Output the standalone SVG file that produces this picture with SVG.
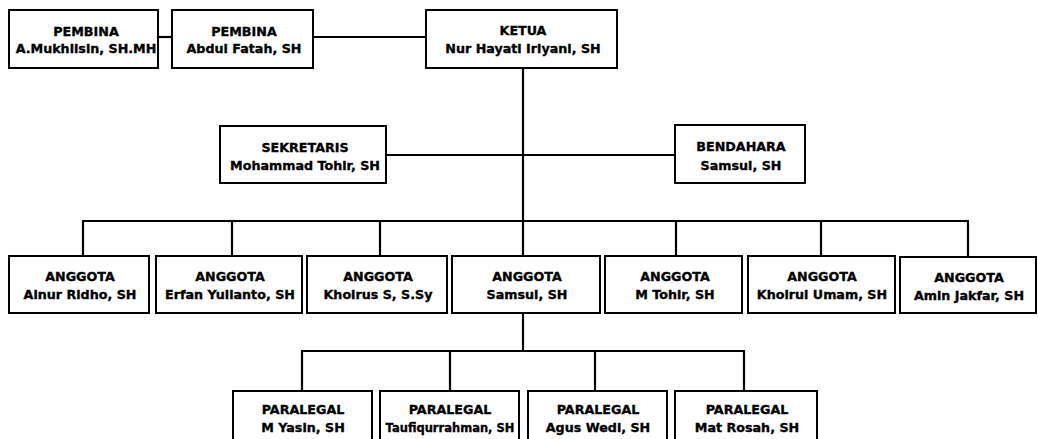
<svg xmlns="http://www.w3.org/2000/svg" width="1038" height="439" viewBox="0 0 1038 439">
<style>
rect.box{fill:#fff;stroke:#000;stroke-width:2}
.c line{stroke:#000;stroke-width:2.2;fill:none}
text{font-family:"DejaVu Sans",Verdana,sans-serif;font-weight:bold;font-size:12.7px;fill:#000;stroke:#000;stroke-width:0.35;text-anchor:middle}
</style>
<rect width="1038" height="439" fill="#fff"/>
<g class="c" id="connectors">
<line x1="158" y1="37" x2="172" y2="37"/>
<line x1="313" y1="37" x2="426" y2="37"/>
<line x1="523" y1="68" x2="523" y2="256"/>
<line x1="386" y1="155" x2="675" y2="155"/>
<line x1="82" y1="221" x2="969" y2="221"/>
<line x1="83" y1="221" x2="83" y2="256"/>
<line x1="232" y1="221" x2="232" y2="256"/>
<line x1="380" y1="221" x2="380" y2="256"/>
<line x1="676" y1="221" x2="676" y2="256"/>
<line x1="821" y1="221" x2="821" y2="256"/>
<line x1="968" y1="221" x2="968" y2="256"/>
<line x1="523" y1="313" x2="523" y2="351"/>
<line x1="301" y1="351" x2="745" y2="351"/>
<line x1="302" y1="351" x2="302" y2="391"/>
<line x1="450" y1="351" x2="450" y2="391"/>
<line x1="595" y1="351" x2="595" y2="391"/>
<line x1="744" y1="351" x2="744" y2="391"/>
</g>
<g id="pembina1"><rect class="box" x="9" y="10" width="149" height="58"/><text x="86" y="36">PEMBINA</text><text x="86" y="53">A.Mukhlisin, SH.MH</text></g>
<g id="pembina2"><rect class="box" x="172" y="10" width="141" height="58"/><text x="244" y="36">PEMBINA</text><text x="244" y="53">Abdul Fatah, SH</text></g>
<g id="ketua"><rect class="box" x="426" y="10" width="191" height="58"/><text x="523" y="35">KETUA</text><text x="523" y="53">Nur Hayati Iriyani, SH</text></g>
<g id="sekretaris"><rect class="box" x="220" y="126" width="166" height="57"/><text x="305" y="152">SEKRETARIS</text><text x="305" y="170">Mohammad Tohir, SH</text></g>
<g id="bendahara"><rect class="box" x="675" y="125" width="130" height="58"/><text x="741" y="151">BENDAHARA</text><text x="741" y="170">Samsul, SH</text></g>
<g id="anggota1"><rect class="box" x="9" y="256" width="140" height="57"/><text x="80" y="281">ANGGOTA</text><text x="80" y="299">Ainur Ridho, SH</text></g>
<g id="anggota2"><rect class="box" x="156" y="256" width="146" height="57"/><text x="230" y="281">ANGGOTA</text><text x="230" y="299">Erfan Yulianto, SH</text></g>
<g id="anggota3"><rect class="box" x="307" y="256" width="140" height="57"/><text x="378" y="281">ANGGOTA</text><text x="378" y="299">Khoirus S, S.Sy</text></g>
<g id="anggota4"><rect class="box" x="452" y="256" width="148" height="57"/><text x="527" y="281">ANGGOTA</text><text x="527" y="299">Samsul, SH</text></g>
<g id="anggota5"><rect class="box" x="605" y="256" width="137" height="57"/><text x="675" y="281">ANGGOTA</text><text x="675" y="299">M Tohir, SH</text></g>
<g id="anggota6"><rect class="box" x="748" y="256" width="147" height="57"/><text x="822" y="281">ANGGOTA</text><text x="822" y="299">Khoirul Umam, SH</text></g>
<g id="anggota7"><rect class="box" x="900" y="257" width="136" height="56"/><text x="969" y="282">ANGGOTA</text><text x="969" y="300">Amin Jakfar, SH</text></g>
<g id="paralegal1"><rect class="box" x="233" y="391" width="139" height="60"/><text x="303" y="414">PARALEGAL</text><text x="303" y="432">M Yasin, SH</text></g>
<g id="paralegal2"><rect class="box" x="380" y="391" width="139" height="60"/><text x="450" y="414">PARALEGAL</text><text x="450" y="432" style="font-size:11.5px">Taufiqurrahman, SH</text></g>
<g id="paralegal3"><rect class="box" x="528" y="391" width="139" height="60"/><text x="598" y="414">PARALEGAL</text><text x="598" y="432">Agus Wedi, SH</text></g>
<g id="paralegal4"><rect class="box" x="675" y="391" width="142" height="60"/><text x="747" y="414">PARALEGAL</text><text x="747" y="432">Mat Rosah, SH</text></g>
</svg>
